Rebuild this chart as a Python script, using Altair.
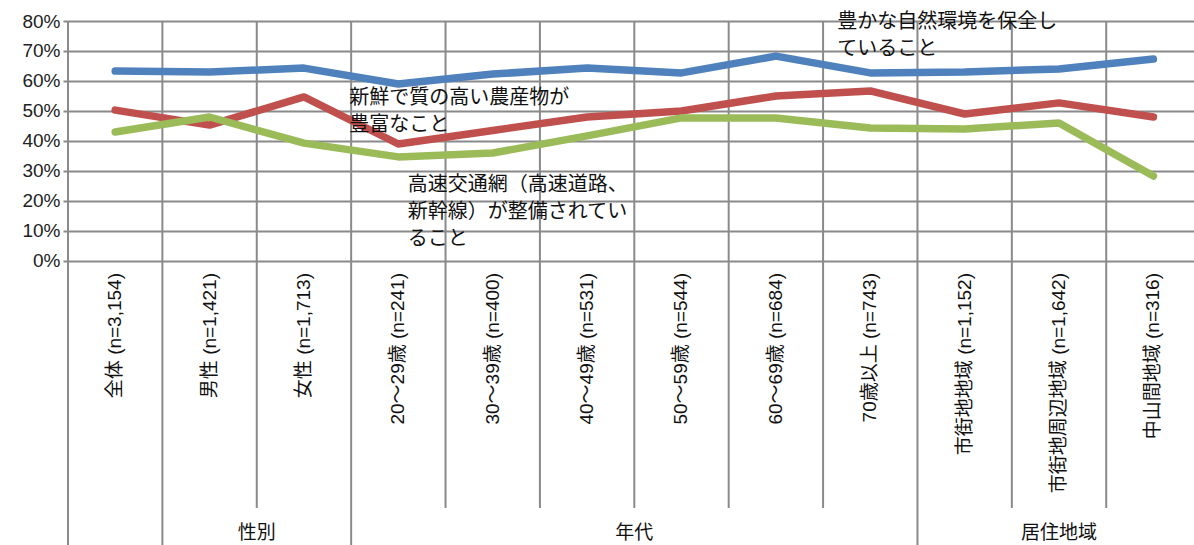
import altair as alt
import pandas as pd

categories = ["全体 (n=3,154)", "男性 (n=1,421)", "女性 (n=1,713)",
              "20～29歳 (n=241)", "30～39歳 (n=400)", "40～49歳 (n=531)",
              "50～59歳 (n=544)", "60～69歳 (n=684)", "70歳以上 (n=743)",
              "市街地地域 (n=1,152)", "市街地周辺地域 (n=1,642)", "中山間地域 (n=316)"]
nature = [63.3, 63.0, 64.3, 59.0, 62.3, 64.3, 62.7, 68.3, 62.7, 63.0, 64.0, 67.3]
produce = [50.3, 45.3, 54.7, 39.0, 43.5, 48.0, 50.0, 55.0, 56.7, 49.0, 52.7, 48.0]
transport = [43.0, 48.0, 39.3, 34.7, 36.0, 41.7, 47.7, 47.7, 44.3, 44.0, 46.0, 28.3]
series_names = ["豊かな自然環境を保全していること", "新鮮で質の高い農産物が豊富なこと", "高速交通網（高速道路、新幹線）が整備されていること"]
series_colors = ["#4F81BD", "#C0504D", "#9BBB59"]
groups = ["性別", "年代", "居住地域"]
group_centers = [2.0, 6.0, 10.5]
group_separators = [0, 1, 3, 9]
y_ticks = [0, 10, 20, 30, 40, 50, 60, 70, 80]

FONT = "Liberation Sans, Noto Sans CJK JP, sans-serif"
GRID = "#8a8a8a"
XMAX = 11.93
YMIN = -94.67

rows = []
for s, vals in zip(series_names, [nature, produce, transport]):
    for i, v in enumerate(vals):
        rows.append({"series": s, "pos": i + 0.5, "value": v})
lines_df = pd.DataFrame(rows)

cat_df = pd.DataFrame({"pos": [i + 0.5 for i in range(len(categories))], "label": categories, "y": -4})
grp_df = pd.DataFrame({"pos": group_centers, "label": groups, "y": -90.7})

vrows = []
for b in range(len(categories)):
    vrows.append({"x": b, "y": 80, "y2": YMIN if b in group_separators else -82.3})
vdf = pd.DataFrame(vrows)

ann_df = pd.DataFrame({
    "x": [8.15, 8.15, 2.98, 2.98, 3.6, 3.6, 3.6],
    "y": [79.5, 70.5, 54.3, 45.3, 25.3, 16.3, 7.3],
    "text": ["豊かな自然環境を保全し", "ていること",
             "新鮮で質の高い農産物が", "豊富なこと",
             "高速交通網（高速道路、", "新幹線）が整備されてい", "ること"],
})

xscale = alt.Scale(domain=[0, XMAX], nice=False, zero=False)
yscale = alt.Scale(domain=[YMIN, 80], nice=False, zero=False)
yaxis = alt.Axis(values=y_ticks, labelExpr="datum.value + '%'", labelFont=FONT,
                 labelFontSize=19, labelColor="#222222", labelPadding=3,
                 ticks=True, tickSize=5, tickColor=GRID, tickWidth=2,
                 domain=False, grid=True, gridColor=GRID, gridWidth=2, title=None)


def X(field):
    return alt.X(field, type="quantitative", scale=xscale, axis=None)


def Y(field):
    return alt.Y(field, type="quantitative", scale=yscale, axis=yaxis)


vlines = alt.Chart(vdf).mark_rule(color=GRID, strokeWidth=2).encode(
    x=X("x"), y=Y("y"), y2="y2")

lines = alt.Chart(lines_df).mark_line(strokeWidth=7.5, strokeCap="round", strokeJoin="round").encode(
    x=X("pos"), y=Y("value"),
    color=alt.Color("series:N", scale=alt.Scale(domain=series_names, range=series_colors), legend=None),
    detail="series:N")

cat_text = alt.Chart(cat_df).mark_text(angle=270, align="right", baseline="middle",
                                       font=FONT, fontSize=19, color="#111111").encode(
    x=X("pos"), y=Y("y"), text="label:N")

grp_text = alt.Chart(grp_df).mark_text(align="center", baseline="middle",
                                       font=FONT, fontSize=19, color="#111111").encode(
    x=X("pos"), y=Y("y"), text="label:N")

ann_text = alt.Chart(ann_df).mark_text(align="left", baseline="middle",
                                       font=FONT, fontSize=20, color="#111111").encode(
    x=X("x"), y=Y("y"), text="text:N")

chart = alt.layer(vlines, lines, cat_text, grp_text, ann_text).properties(
    width=1126, height=524,
    padding={"left": 68, "top": 21, "right": 0, "bottom": 0},
    autosize=alt.AutoSizeParams(type="none"),
).configure_view(stroke=None).configure(background="white")

chart.save("out.html", embed_options={"renderer": "svg", "actions": False})
